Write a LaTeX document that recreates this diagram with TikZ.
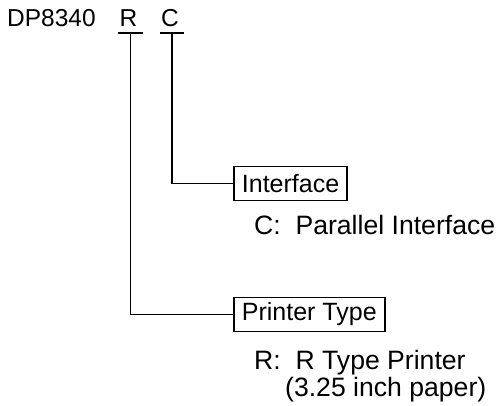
\documentclass[tikz,border=0pt]{standalone}
\usepackage{fontspec}
\setmainfont{Liberation Sans}
\begin{document}
\begin{tikzpicture}[x=1pt,y=-1pt,
  lbl/.style={font=\fontsize{24.5}{28}\selectfont, inner sep=0pt},
  desc/.style={font=\fontsize{26.6}{30}\selectfont, inner sep=0pt, anchor=base west},
  catbox/.style={draw, line width=1.8pt, font=\fontsize{25}{28}\selectfont, minimum height=34pt, inner xsep=8pt, inner ysep=0pt, anchor=west},
  conn/.style={line width=1.8pt}]
\useasboundingbox (0,0) rectangle (500,406);
\node[lbl, anchor=base west] (dp) at (7,27) {DP8340};
\node[lbl, anchor=base] (r) at (128.5,27) {R};
\node[lbl, anchor=base] (c) at (170,27) {C};
\coordinate (rl) at (118,33);
\coordinate (rr) at (143,33);
\coordinate (rm) at (130.5,33);
\coordinate (cl) at (160,33);
\coordinate (cr) at (184,33);
\coordinate (cm) at (172,33);
\draw[conn] (rl) -- (rr);
\draw[conn] (cl) -- (cr);
\node[catbox] (ifbox) at (233,183.5) {Interface};
\node[catbox] (ptbox) at (233,314.5) {Printer Type};
\draw[conn] (cm) |- (ifbox.west);
\draw[conn] (rm) |- (ptbox.west);
\node[desc] (ifdesc) at (254,234) {C:\ \ Parallel Interface};
\node[desc] (ptdesc) at (254,369) {R:\ \ R Type Printer};
\node[desc] (ptdesc2) at (285,396) {(3.25 inch paper)};
\end{tikzpicture}
\end{document}
